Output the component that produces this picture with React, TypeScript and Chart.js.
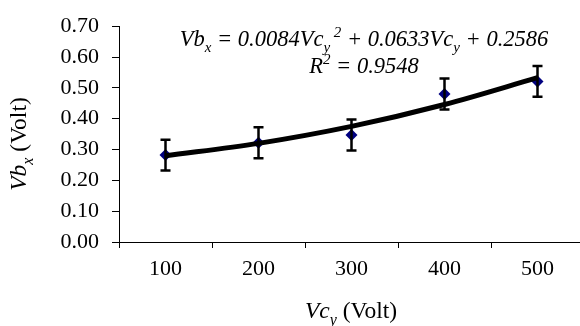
import React, { useEffect, useRef } from 'react';
import { Chart, registerables } from 'chart.js';

Chart.register(...registerables);

const categories = ['100', '200', '300', '400', '500'];
const vbValues = [0.282, 0.322, 0.347, 0.48, 0.521];
const errorValues = [0.05, 0.05, 0.05, 0.05, 0.05];
const trendValues = [0.28, 0.32, 0.375, 0.446, 0.533];
const yTicks = [0, 0.1, 0.2, 0.3, 0.4, 0.5, 0.6, 0.7];

const SERIF = '"Liberation Serif", "Times New Roman", serif';

type Part = { t: string; k?: 'sub' | 'sup'; it?: boolean };

function drawRich(ctx: CanvasRenderingContext2D, parts: Part[], cx: number, baseline: number, size: number, defItalic: boolean) {
  const small = Math.round(size * 0.68);
  const fontFor = (p: Part) => {
    const it = p.it !== undefined ? p.it : defItalic;
    const s = p.k ? small : size;
    return `${it ? 'italic ' : ''}${s}px ${SERIF}`;
  };
  let total = 0;
  const widths = parts.map((p) => {
    ctx.font = fontFor(p);
    const w = ctx.measureText(p.t).width;
    total += w;
    return w;
  });
  let x = cx - total / 2;
  ctx.textAlign = 'left';
  ctx.textBaseline = 'alphabetic';
  ctx.fillStyle = '#000';
  parts.forEach((p, i) => {
    ctx.font = fontFor(p);
    let y = baseline;
    if (p.k === 'sub') y += size * 0.28;
    if (p.k === 'sup') y -= size * 0.38;
    ctx.fillText(p.t, x, y);
    x += widths[i];
  });
}

const textPlugin = {
  id: 'richText',
  afterDatasetsDraw(chart: any) {
    const ctx = chart.ctx as CanvasRenderingContext2D;
    const xs = chart.scales.x;
    const ys = chart.scales.y;
    ctx.save();
    ctx.strokeStyle = '#000';
    ctx.lineWidth = 2.5;
    vbValues.forEach((v, i) => {
      const px = xs.getPixelForValue(i);
      const top = ys.getPixelForValue(v + errorValues[i]);
      const bot = ys.getPixelForValue(v - errorValues[i]);
      ctx.beginPath();
      ctx.moveTo(px, top);
      ctx.lineTo(px, bot);
      ctx.moveTo(px - 5, top);
      ctx.lineTo(px + 5, top);
      ctx.moveTo(px - 5, bot);
      ctx.lineTo(px + 5, bot);
      ctx.stroke();
    });
    ctx.restore();
  },
  afterDraw(chart: any) {
    const ctx = chart.ctx as CanvasRenderingContext2D;
    ctx.save();
    drawRich(ctx, [
      { t: 'Vb' }, { t: 'x', k: 'sub' },
      { t: ' = 0.0084Vc' }, { t: 'y', k: 'sub' }, { t: ' 2', k: 'sup' },
      { t: ' + 0.0633Vc' }, { t: 'y', k: 'sub' }, { t: ' + 0.2586' },
    ], 364, 46, 22.5, true);
    drawRich(ctx, [{ t: 'R' }, { t: '2', k: 'sup' }, { t: ' = 0.9548' }], 364, 73, 22.5, true);
    drawRich(ctx, [{ t: 'Vc', it: true }, { t: 'y', k: 'sub', it: true }, { t: ' (Volt)', it: false }], 351, 318, 23.5, false);
    ctx.translate(26, 144);
    ctx.rotate(-Math.PI / 2);
    drawRich(ctx, [{ t: 'Vb', it: true }, { t: 'x', k: 'sub', it: true }, { t: ' (Volt)', it: false }], 0, 0, 23.5, false);
    ctx.restore();
  },
};

export default function App() {
  const ref = useRef<HTMLCanvasElement>(null);
  useEffect(() => {
    const chart = new Chart(ref.current!, {
      type: 'line',
      data: {
        labels: categories,
        datasets: [
          {
            label: 'trend',
            data: trendValues,
            borderColor: '#000',
            borderWidth: 5,
            pointRadius: 0,
            cubicInterpolationMode: 'monotone',
            order: 0,
          },
          {
            label: 'Vb',
            data: vbValues,
            showLine: false,
            pointStyle: 'rectRot',
            pointRadius: 6,
            backgroundColor: '#000080',
            borderColor: '#000080',
            borderWidth: 0,
            order: 1,
          },
        ],
      },
      options: {
        animation: false,
        responsive: false,
        events: [],
        layout: { padding: { top: 20, right: 6, left: 0, bottom: 0 } },
        plugins: { legend: { display: false }, tooltip: { enabled: false } },
        scales: {
          x: {
            type: 'category',
            offset: true,
            grid: { offset: true, drawOnChartArea: false, color: '#000', tickLength: 6, tickWidth: 1 },
            border: { color: '#000', width: 1 },
            ticks: { color: '#000', font: { family: SERIF, size: 22 }, padding: 8, maxRotation: 0 },
            afterFit: (s: any) => { s.height = 84; },
          },
          y: {
            type: 'linear',
            min: 0,
            max: 0.7,
            afterBuildTicks: (s: any) => { s.ticks = yTicks.map((v) => ({ value: v })); },
            grid: { drawOnChartArea: false, color: '#000', tickLength: 7 },
            border: { color: '#000', width: 1 },
            ticks: { color: '#000', font: { family: SERIF, size: 22 }, padding: 13, callback: (v: any) => Number(v).toFixed(2) },
            afterFit: (s: any) => { s.width = 119; },
          },
        },
      } as any,
      plugins: [textPlugin],
    });
    return () => chart.destroy();
  }, []);
  return (
    <div style={{ position: 'fixed', left: 0, top: 0, width: 590, height: 326, background: '#fff' }}>
      <canvas ref={ref} width={590} height={326} style={{ display: 'block' }} />
    </div>
  );
}
